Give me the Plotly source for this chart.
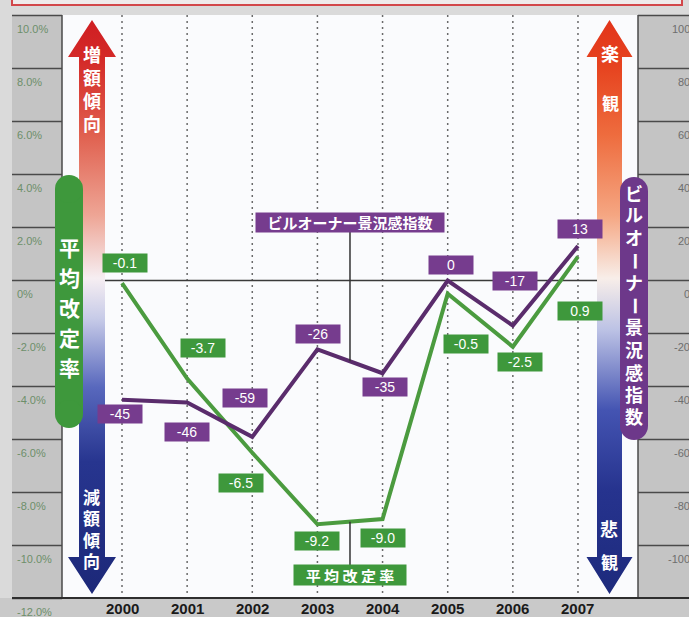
import plotly.graph_objects as go

# ---- data -------------------------------------------------------------
years = [2000, 2001, 2002, 2003, 2004, 2005, 2006, 2007]
avg_revision_rate = [-0.1, -3.7, -6.5, -9.2, -9.0, -0.5, -2.5, 0.9]      # %
owner_sentiment = [-45, -46, -59, -26, -35, 0, -17, 13]                    # index

left_tick_vals = [10, 8, 6, 4, 2, 0, -2, -4, -6, -8, -10, -12]
left_tick_text = ["10.0%", "8.0%", "6.0%", "4.0%", "2.0%", "0%",
                  "-2.0%", "-4.0%", "-6.0%", "-8.0%", "-10.0%", "-12.0%"]
right_tick_vals = [100, 80, 60, 40, 20, 0, -20, -40, -60, -80, -100]
right_tick_text = ["100", "80", "60", "40", "20", "0",
                   "-20", "-40", "-60", "-80", "-100"]

rate_name = "平均改定率"
sentiment_name = "ビルオーナー景況感指数"

# ---- geometry (canvas pixels) -----------------------------------------
W, H = 689, 617
X0_PX, YEAR_PX = 122, 65.14       # pixel of first year, pixels per year
ZERO_PX, PCT_PX = 280.5, 26.5     # pixel of 0 %, pixels per 1 %
PLOT_L, PLOT_R, PLOT_T, PLOT_B = 62, 638, 15, 598

x_range = [years[0] - X0_PX / YEAR_PX, years[0] + (W - X0_PX) / YEAR_PX]
y_range = [-(H - ZERO_PX) / PCT_PX, ZERO_PX / PCT_PX]


def px_to_pct(py):
    return (ZERO_PX - py) / PCT_PX


GREEN_LINE = "#4b9b3f"
GREEN_BOX = "#3e983c"
PURPLE_LINE = "#5a2c6c"
PURPLE_BOX = "#763c8e"
PANEL = "#c4c4c4"
PANEL_LINE = "#4a4a4a"
CJK = "Noto Sans CJK JP"
CJK_TIGHT = "Liberation Sans, Noto Sans CJK JP"
LATIN = "Liberation Sans"

fig = go.Figure()

# empty traces so that every axis pairing used by the decorations exists
for xa, ya in [("x2", "y"), ("x2", "y2"), ("x", "y3")]:
    fig.add_trace(go.Scatter(x=[], y=[], xaxis=xa, yaxis=ya, showlegend=False,
                             hoverinfo="skip"))

# ---- gradient arrows (pixel axes x2 / y3) ----------------------------
def arrow(cx, shaft_half, head_half, top, bottom, head_len):
    xs = [cx, cx - head_half, cx - shaft_half, cx - shaft_half, cx - head_half,
          cx, cx + head_half, cx + shaft_half, cx + shaft_half, cx + head_half, cx]
    ys = [top, top + head_len, top + head_len, bottom - head_len, bottom - head_len,
          bottom, bottom - head_len, bottom - head_len, top + head_len, top + head_len, top]
    return xs, ys


left_scale = [[0, "#cf1e22"], [0.07, "#d42a28"], [0.2, "#e0604f"], [0.34, "#eea595"],
              [0.45, "#f6eef2"], [0.52, "#c7cbe8"], [0.64, "#5868bd"],
              [0.77, "#27358f"], [1, "#1c2878"]]
right_scale = [[0, "#e2341a"], [0.08, "#e6431f"], [0.2, "#ee6c3e"], [0.34, "#f5a682"],
               [0.45, "#f8eee9"], [0.54, "#bcc2e5"], [0.68, "#4454b2"],
               [0.82, "#26338e"], [1, "#1d2a7c"]]

for cx, sh, hh, scale in [(92, 13, 24, left_scale), (609.5, 12.5, 23, right_scale)]:
    xs, ys = arrow(cx, sh, hh, 20, 594, 37)
    fig.add_trace(go.Scatter(
        x=xs, y=ys, xaxis="x2", yaxis="y3", mode="lines", line=dict(width=0),
        fill="toself",
        fillgradient=dict(type="vertical", colorscale=scale, start=20, stop=594),
        hoverinfo="skip", showlegend=False))

# ---- series -----------------------------------------------------------
fig.add_trace(go.Scatter(
    x=years, y=avg_revision_rate, name=rate_name, mode="lines",
    line=dict(color=GREEN_LINE, width=4), xaxis="x", yaxis="y", showlegend=False))
fig.add_trace(go.Scatter(
    x=years, y=owner_sentiment, name=sentiment_name, mode="lines",
    line=dict(color=PURPLE_LINE, width=4), xaxis="x", yaxis="y2", showlegend=False))

shapes = []
annotations = []

# backgrounds
shapes.append(dict(type="rect", xref="x2", yref="y3", x0=12, x1=682, y0=-6, y1=5,
                   line=dict(color="#d2474a", width=2), fillcolor="#efebeb", layer="below"))
shapes.append(dict(type="rect", xref="x2", yref="y3", x0=PLOT_L, x1=PLOT_R, y0=PLOT_T, y1=PLOT_B,
                   line=dict(width=0), fillcolor="#fafbfd", layer="below"))
shapes.append(dict(type="rect", xref="x2", yref="y3", x0=12, x1=PLOT_L, y0=PLOT_T, y1=PLOT_B,
                   line=dict(width=0), fillcolor=PANEL, layer="below"))
shapes.append(dict(type="rect", xref="x2", yref="y3", x0=PLOT_R, x1=W + 2, y0=PLOT_T, y1=PLOT_B,
                   line=dict(width=0), fillcolor=PANEL, layer="below"))
shapes.append(dict(type="rect", xref="x2", yref="y3", x0=0, x1=W + 2, y0=PLOT_B, y1=H + 2,
                   line=dict(width=0), fillcolor="#c9c9c9", layer="below"))

# panel rules
for v in left_tick_vals:
    shapes.append(dict(type="line", xref="x2", yref="y", x0=12, x1=PLOT_L, y0=v, y1=v,
                       line=dict(color=PANEL_LINE, width=1.5), layer="below"))
for v in right_tick_vals:
    shapes.append(dict(type="line", xref="x2", yref="y2", x0=PLOT_R, x1=W + 2, y0=v, y1=v,
                       line=dict(color=PANEL_LINE, width=1.5), layer="below"))
for xv in (PLOT_L, PLOT_R):
    shapes.append(dict(type="line", xref="x2", yref="y3", x0=xv, x1=xv, y0=PLOT_T, y1=PLOT_B,
                       line=dict(color=PANEL_LINE, width=1.5), layer="below"))

# dotted year guides
for yr in years:
    shapes.append(dict(type="line", xref="x", yref="y3", x0=yr, x1=yr, y0=PLOT_T, y1=PLOT_B,
                       line=dict(color="#6a6a6a", width=1.5, dash="2px,4px"), layer="below"))

# zero line and base line
shapes.append(dict(type="line", xref="x2", yref="y", x0=PLOT_L, x1=PLOT_R, y0=0, y1=0,
                   line=dict(color="#3a3a3a", width=1.5), layer="below"))
shapes.append(dict(type="line", xref="x2", yref="y3", x0=12, x1=W + 2, y0=PLOT_B, y1=PLOT_B,
                   line=dict(color="#2e2e2e", width=2), layer="below"))

# series-name leader lines
shapes.append(dict(type="line", xref="x", yref="y2", x0=2003.5, x1=2003.5,
                   y0=(owner_sentiment[3] + owner_sentiment[4]) / 2, y1=px_to_pct(232) * 10,
                   line=dict(color="#333333", width=1.5)))
shapes.append(dict(type="line", xref="x", yref="y", x0=2003.5, x1=2003.5,
                   y0=(avg_revision_rate[3] + avg_revision_rate[4]) / 2, y1=px_to_pct(565),
                   line=dict(color="#333333", width=1.5)))

# side pills
def pill(x0, x1, y0, y1, color):
    r = (x1 - x0) / 2
    return [
        dict(type="rect", xref="x2", yref="y3", x0=x0, x1=x1, y0=y0 + r, y1=y1 - r,
             fillcolor=color, line=dict(width=0), layer="above"),
        dict(type="circle", xref="x2", yref="y3", x0=x0, x1=x1, y0=y0, y1=y0 + 2 * r,
             fillcolor=color, line=dict(width=0), layer="above"),
        dict(type="circle", xref="x2", yref="y3", x0=x0, x1=x1, y0=y1 - 2 * r, y1=y1,
             fillcolor=color, line=dict(width=0), layer="above"),
    ]


shapes += pill(55, 83, 175, 428, GREEN_BOX)
shapes += pill(620, 648, 177, 440, "#6d388a")

# ---- text ---------------------------------------------------------------
# panel tick labels
for v, t in zip(left_tick_vals, left_tick_text):
    annotations.append(dict(x=15, y=v, xref="x2", yref="y", text=t, showarrow=False,
                            xanchor="left", yanchor="top", yshift=-5,
                            font=dict(family=LATIN, size=11, color="#6d8f6a")))
for v, t in zip(right_tick_vals, right_tick_text):
    annotations.append(dict(x=W - 1, y=v, xref="x2", yref="y2", text=t, showarrow=False,
                            xanchor="right", yanchor="top", yshift=-5, xshift=4,
                            font=dict(family=LATIN, size=11, color="#6e6e6e")))

# year labels
for yr in years:
    annotations.append(dict(x=yr, y=608, xref="x", yref="y3", text=str(yr), showarrow=False,
                            xanchor="center", yanchor="middle",
                            font=dict(family=LATIN, size=15, color="#1a1a1a", weight="bold")))

# value boxes
rate_offsets = [(3, 20), (16, 31), (-11, -30), (0, -17), (0, -19), (18, -50), (7, -15), (2, -54)]
sent_offsets = [(-2, -14), (0, -30), (-7, 39), (1, 15), (2, -14), (3, 16), (2, 45), (2, 17)]

for yr, v, (dx, dy) in zip(years, avg_revision_rate, rate_offsets):
    annotations.append(dict(x=yr, y=v, xref="x", yref="y", text=f"{v:.1f}", showarrow=False,
                            xshift=dx, yshift=dy, bgcolor=GREEN_BOX, width=40, height=14,
                            borderpad=2, font=dict(family=LATIN, size=14, color="white")))
for yr, v, (dx, dy) in zip(years, owner_sentiment, sent_offsets):
    annotations.append(dict(x=yr, y=v, xref="x", yref="y2", text=f"{v}", showarrow=False,
                            xshift=dx, yshift=dy, bgcolor=PURPLE_BOX, width=40, height=14,
                            borderpad=2, font=dict(family=LATIN, size=14, color="white")))

# series-name boxes
annotations.append(dict(x=350, y=222.5, xref="x2", yref="y3", text=sentiment_name, showarrow=False,
                        bgcolor=PURPLE_BOX, width=184, height=15, borderpad=2,
                        font=dict(family=CJK, size=15, color="white", weight="bold")))
annotations.append(dict(x=350, y=575, xref="x2", yref="y3", text=" ".join(rate_name),
                        showarrow=False, bgcolor=GREEN_BOX, width=108, height=16, borderpad=2,
                        font=dict(family=CJK, size=15, color="white", weight="bold")))


def vchars(text, cx, first, step, size, upright_marks=False):
    """Vertical writing: one annotation per character."""
    for i, ch in enumerate(text):
        turned = upright_marks and ch == "ー"
        annotations.append(dict(x=cx, y=first + i * step, xref="x2", yref="y3", text=ch,
                                showarrow=False, xanchor="center", yanchor="middle",
                                textangle=90 if turned else 0,
                                font=dict(family=CJK_TIGHT, size=size, color="white",
                                          weight="bold")))


# arrow captions
vchars("増額傾向", 92, 56, 23, 18)
vchars("減額傾向", 91, 498, 21.5, 17)
vchars("楽", 610, 55, 0, 18)
vchars("観", 610, 104, 0, 17)
vchars("悲", 609, 530, 0, 18)
vchars("観", 609, 563, 0, 17)

# pill captions
vchars(rate_name, 69, 248, 30, 21)
vchars(sentiment_name, 634, 194, 22.4, 18, upright_marks=True)

fig.update_layout(
    width=W, height=H, margin=dict(l=0, r=0, t=0, b=0),
    paper_bgcolor="#dadada", plot_bgcolor="rgba(0,0,0,0)",
    showlegend=False,
    xaxis=dict(range=x_range, visible=False, fixedrange=True),
    yaxis=dict(range=y_range, visible=False, fixedrange=True),
    yaxis2=dict(range=[y_range[0] * 10, y_range[1] * 10], overlaying="y", visible=False),
    xaxis2=dict(range=[0, W], overlaying="x", visible=False),
    yaxis3=dict(range=[H, 0], overlaying="y", visible=False),
    shapes=shapes,
    annotations=annotations,
)

fig.write_html("out.html")
